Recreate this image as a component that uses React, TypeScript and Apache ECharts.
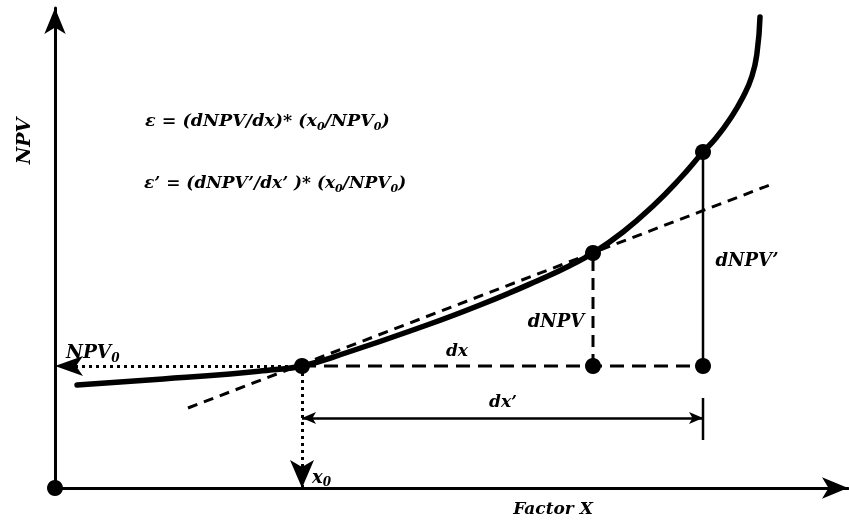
import React, { useEffect, useRef } from "react";
import * as echarts from "echarts";

// Diagram coordinates (origin at the axes' intersection)
const xMax = 793;
const yMax = 480;

// NPV curve as a function of Factor X
const curveX = [22, 108, 175, 215, 247, 292, 358, 425, 492, 515, 538, 568, 598, 625, 648, 661, 675, 688, 697, 702, 705];
const curveY = [103, 109, 114, 118, 122, 135.5, 158, 183, 211.5, 222.5, 235, 256, 282, 309.5, 336, 350, 369, 391, 412, 435, 471];

// base point (x0, NPV0) and the two perturbed points
const x0 = 247;
const npv0 = 122;
const x1 = 538;
const npv1 = 235;
const x2 = 648;
const npv2 = 336;

// tangent line at x0
const tangentX = [133, 720];
const tangentY = [80, 305];

// dx' dimension line level and tick extent
const dxPrimeY = 70;
const tickY = [48, 90];

const FONT = "'DejaVu Serif', 'Liberation Serif', serif";

export default function App() {
  const ref = useRef<HTMLDivElement>(null);

  useEffect(() => {
    if (!ref.current) return;
    const chart = echarts.init(ref.current, undefined, { renderer: "svg" });

    const black = "#000";
    const txt = (size: number) => ({
      fontFamily: FONT,
      fontStyle: "italic" as const,
      fontWeight: "bold" as const,
      fontSize: size,
      fill: black,
    });
    const rich = (size: number) => ({
      m: { fontFamily: FONT, fontStyle: "italic", fontWeight: "bold", fontSize: size, color: black, lineHeight: size + 4, verticalAlign: "bottom" },
      s: { fontFamily: FONT, fontStyle: "italic", fontWeight: "bold", fontSize: Math.round(size * 0.65), color: black, lineHeight: Math.round(size * 0.65), verticalAlign: "bottom", padding: [0, 0, -3, 0] },
    });

    const option: any = {
      animation: false,
      grid: { left: 55, right: 1, top: 8, bottom: 37 },
      xAxis: {
        type: "value",
        min: 0,
        max: xMax,
        axisLine: { show: true, symbol: ["none", "arrow"], symbolSize: [16, 26], lineStyle: { color: black, width: 3 } },
        axisTick: { show: false },
        axisLabel: { show: false },
        splitLine: { show: false },
      },
      yAxis: {
        type: "value",
        min: 0,
        max: yMax,
        axisLine: { show: true, symbol: ["none", "arrow"], symbolSize: [16, 26], lineStyle: { color: black, width: 3 } },
        axisTick: { show: false },
        axisLabel: { show: false },
        splitLine: { show: false },
      },
      series: [
        {
          type: "line",
          data: curveX.map((x, i) => [x, curveY[i]]),
          smooth: 0.5,
          symbol: "none",
          clip: false,
          lineStyle: { color: black, width: 5.5, cap: "round" },
          silent: true,
        },
        {
          type: "line",
          data: tangentX.map((x, i) => [x, tangentY[i]]),
          symbol: "none",
          clip: false,
          lineStyle: { color: black, width: 3, type: [10, 7] },
          silent: true,
        },
        {
          type: "line",
          data: [[x0, npv0], [x2, npv0]],
          symbol: "none",
          lineStyle: { color: black, width: 3, type: [14, 8] },
          silent: true,
        },
        {
          type: "line",
          data: [[x1, npv0], [x1, npv1]],
          symbol: "none",
          lineStyle: { color: black, width: 3, type: [12, 7] },
          silent: true,
        },
        {
          type: "line",
          data: [[x2, npv0], [x2, npv2]],
          symbol: "none",
          lineStyle: { color: black, width: 2.5 },
          silent: true,
        },
        {
          type: "line",
          data: [[x2, tickY[0]], [x2, tickY[1]]],
          symbol: "none",
          lineStyle: { color: black, width: 2.5 },
          silent: true,
        },
        {
          type: "line",
          data: [],
          silent: true,
          markLine: {
            silent: true,
            animation: false,
            label: { show: false },
            emphasis: { disabled: true },
            data: [
              [
                { coord: [x0, npv0], symbol: "none", lineStyle: { color: black, width: 3, type: [3, 4] } },
                { coord: [0, npv0], symbol: "arrow", symbolSize: [15, 28] },
              ],
              [
                { coord: [x0, npv0], symbol: "none", lineStyle: { color: black, width: 3, type: [3, 4] } },
                { coord: [x0, 0], symbol: "arrow", symbolSize: [18, 28] },
              ],
              [
                { coord: [x0, dxPrimeY], symbol: "arrow", symbolSize: [9, 14], lineStyle: { color: black, width: 2.5, type: "solid" } },
                { coord: [x2, dxPrimeY], symbol: "arrow", symbolSize: [9, 14] },
              ],
            ],
          },
        },
        {
          type: "scatter",
          data: [[0, 0], [x0, npv0], [x1, npv1], [x1, npv0], [x2, npv2], [x2, npv0]],
          symbolSize: 16,
          clip: false,
          itemStyle: { color: black, opacity: 1 },
          silent: true,
        },
      ],
      graphic: [
        { type: "text", x: 23, y: 141, rotation: Math.PI / 2, style: { ...txt(19), text: "NPV", align: "center", verticalAlign: "middle" } },
        { type: "text", x: 553, y: 508, style: { ...txt(17), text: "Factor X", align: "center", verticalAlign: "middle" } },
        {
          type: "text", x: 145, y: 118,
          style: { text: "{m|ε = (dNPV/dx)* (x}{s|0}{m|/NPV}{s|0}{m|)}", rich: rich(17.5), verticalAlign: "middle", align: "left" },
        },
        {
          type: "text", x: 144, y: 180,
          style: { text: "{m|ε’ = (dNPV’/dx’ )* (x}{s|0}{m|/NPV}{s|0}{m|)}", rich: rich(17), verticalAlign: "middle", align: "left" },
        },
        {
          type: "text", x: 66, y: 350,
          style: { text: "{m|NPV}{s|0}", rich: rich(18.5), verticalAlign: "middle", align: "left" },
        },
        {
          type: "text", x: 312, y: 474,
          style: { text: "{m|x}{s|0}", rich: rich(18), verticalAlign: "middle", align: "left" },
        },
        { type: "text", x: 457, y: 350, style: { ...txt(17), text: "dx", align: "center", verticalAlign: "middle" } },
        { type: "text", x: 556, y: 320, style: { ...txt(18), text: "dNPV", align: "center", verticalAlign: "middle" } },
        { type: "text", x: 747, y: 259, style: { ...txt(18), text: "dNPV’", align: "center", verticalAlign: "middle" } },
        { type: "text", x: 503, y: 401, style: { ...txt(17), text: "dx’", align: "center", verticalAlign: "middle" } },
      ],
    };

    chart.setOption(option);
    return () => chart.dispose();
  }, []);

  return <div ref={ref} style={{ position: "fixed", left: 0, top: 0, width: 849, height: 525 }} />;
}
